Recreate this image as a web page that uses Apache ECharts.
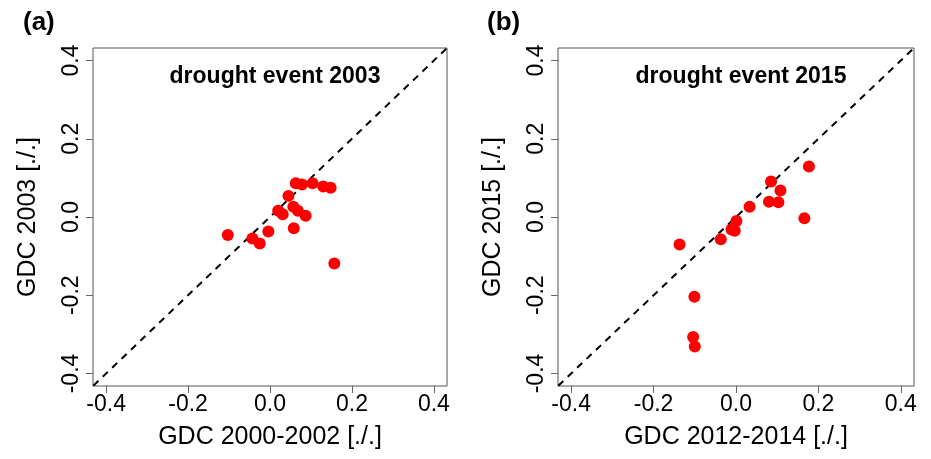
<!DOCTYPE html>
<html>
<head>
<meta charset="utf-8">
<script src="https://cdn.jsdelivr.net/npm/echarts@6/dist/echarts.min.js"></script>
<style>html,body{margin:0;padding:0;background:#fff}#c{width:931px;height:459px}</style>
</head>
<body>
<div id="c"></div>
<script>
// Panel (a): drought event 2003
const xA = [-0.103,-0.043,-0.025,-0.004,0.020,0.031,0.045,0.058,0.057,0.068,0.087,0.063,0.078,0.104,0.130,0.148,0.157];
const yA = [-0.046,-0.055,-0.068,-0.037,0.016,0.007,0.054,-0.029,0.026,0.016,0.003,0.086,0.083,0.086,0.078,0.075,-0.119];
// Panel (b): drought event 2015
const xB = [-0.137,-0.101,-0.104,-0.100,-0.037,-0.011,-0.003,0.001,0.033,0.085,0.080,0.103,0.108,0.166,0.177];
const yB = [-0.070,-0.204,-0.307,-0.331,-0.057,-0.032,-0.035,-0.010,0.026,0.091,0.039,0.038,0.068,-0.003,0.129];
const tickValues = [-0.4,-0.2,0.0,0.2,0.4];
const axisMin = -0.432, axisMax = 0.432;
const titles = ['drought event 2003','drought event 2015'];
const xNames = ['GDC 2000-2002 [./.]','GDC 2012-2014 [./.]'];
const yNames = ['GDC 2003 [./.]','GDC 2015 [./.]'];
const panelLabels = ['(a)','(b)'];
const diagonal = [[-0.5,-0.5],[0.5,0.5]];

const FONT = 'Liberation Sans, Arial, Helvetica, sans-serif';
const grids = [
  {left:93, top:48, width:354, height:338},
  {left:558, top:48, width:356, height:338}
];
function fmt(v){ return v.toFixed(1); }
const xAxes = [], yAxes = [], series = [];
grids.forEach((g,i)=>{
  xAxes.push({
    type:'value', gridIndex:i, min:axisMin, max:axisMax,
    name:xNames[i], nameLocation:'middle', nameGap:39,
    nameTextStyle:{fontFamily:FONT, fontSize:25, color:'#000'},
    axisLine:{show:false, onZero:false},
    axisTick:{show:true, inside:false, length:7, lineStyle:{color:'#666', width:1}, customValues:tickValues},
    axisLabel:{fontFamily:FONT, fontSize:23, color:'#000', margin:7, customValues:tickValues, formatter:fmt},
    splitLine:{show:false}
  });
  yAxes.push({
    type:'value', gridIndex:i, min:axisMin, max:axisMax,
    name:yNames[i], nameLocation:'middle', nameGap:52, nameRotate:90,
    nameTextStyle:{fontFamily:FONT, fontSize:25, color:'#000'},
    axisLine:{show:false, onZero:false},
    axisTick:{show:true, inside:false, length:7, lineStyle:{color:'#666', width:1}, customValues:tickValues},
    axisLabel:{fontFamily:FONT, fontSize:23, color:'#000', margin:10, rotate:90, customValues:tickValues, formatter:fmt},
    splitLine:{show:false}
  });
  series.push({
    type:'line', xAxisIndex:i, yAxisIndex:i, data:diagonal, showSymbol:false, symbol:'none',
    clip:true, silent:true,
    lineStyle:{color:'#000', width:2, type:[7,6]}, z:2
  });
  const xs = i===0 ? xA : xB, ys = i===0 ? yA : yB;
  series.push({
    type:'scatter', xAxisIndex:i, yAxisIndex:i,
    data: xs.map((v,k)=>[v, ys[k]]),
    symbol:'circle', symbolSize:12,
    itemStyle:{color:'#ff0000', opacity:1}, z:3
  });
});
const chart = echarts.init(document.getElementById('c'), null, {renderer:'canvas'});
chart.setOption({
  animation:false,
  backgroundColor:'#fff',
  grid: grids.map(g=>Object.assign({show:true, borderColor:'#555', borderWidth:1, backgroundColor:'transparent'}, g)),
  title: [
    {text:titles[0], left:270, top:60, textAlign:'center', textStyle:{fontFamily:FONT, fontSize:23, fontWeight:'bold', color:'#000'}},
    {text:titles[1], left:736, top:60, textAlign:'center', textStyle:{fontFamily:FONT, fontSize:23, fontWeight:'bold', color:'#000'}},
    {text:panelLabels[0], left:18, top:5, textStyle:{fontFamily:FONT, fontSize:26, fontWeight:'bold', color:'#000'}},
    {text:panelLabels[1], left:482, top:5, textStyle:{fontFamily:FONT, fontSize:26, fontWeight:'bold', color:'#000'}}
  ],
  xAxis:xAxes, yAxis:yAxes, series:series
});
</script>
</body>
</html>
